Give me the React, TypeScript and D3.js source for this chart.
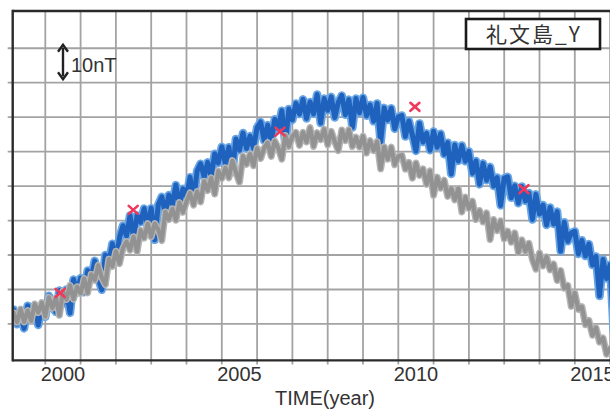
import React from 'react';
import * as d3 from 'd3';

// Sampling of the two daily-like series: one value every 0.1 year starting 1999.1
const START_YEAR = 1999.1;
const STEP = 0.1;

// Observed (blue) series, nT (relative)
const blueValues = [
  14.2, 9.9, 13.0, 8.7, 15.3, 11.3, 15.2, 9.7, 15.6, 12.1,
  18.2, 14.9, 13.5, 19.7, 15.8, 20.0, 13.2, 22.9, 19.1, 23.3,
  19.2, 25.5, 22.9, 28.3, 23.2, 19.9, 30.0, 27.7, 33.3, 28.0,
  35.0, 38.5, 35.5, 41.5, 35.0, 41.5, 39.5, 43.5, 38.3, 43.6,
  34.4, 44.6, 46.9, 42.1, 47.4, 44.6, 50.3, 44.5, 49.2, 46.9,
  52.6, 45.7, 54.4, 56.5, 52.7, 56.9, 52.7, 59.4, 56.7, 61.4,
  56.6, 61.3, 54.0, 63.7, 60.4, 65.4, 60.9, 64.5, 61.0, 67.0,
  68.6, 63.2, 67.7, 62.8, 69.4, 66.7, 71.9, 62.2, 72.4, 69.2,
  74.0, 70.9, 75.2, 69.6, 74.4, 71.0, 76.6, 68.3, 75.4, 72.0,
  75.9, 69.9, 74.3, 76.3, 70.7, 75.1, 67.0, 75.4, 71.3, 75.7,
  70.4, 73.6, 68.8, 74.0, 62.7, 72.7, 69.2, 72.6, 66.6, 70.1,
  70.5, 64.4, 68.9, 64.8, 60.2, 68.2, 62.8, 65.3, 60.4, 65.9,
  61.3, 65.2, 59.2, 62.6, 53.5, 61.9, 57.3, 61.8, 57.2, 60.1,
  53.7, 57.3, 50.5, 56.6, 51.7, 55.6, 50.0, 52.5, 44.4, 52.3,
  52.7, 46.6, 50.1, 45.0, 49.9, 45.7, 48.0, 40.3, 47.6, 41.9,
  44.5, 38.7, 43.8, 39.0, 42.6, 31.1, 39.5, 34.0, 36.4, 36.9,
  30.3, 34.3, 29.7, 33.2, 27.1, 29.6, 18.1, 28.7, 23.2, 27.2,
  8.0,
];

// Model (gray) series, nT (relative)
const grayValues = [
  13.2, 10.5, 14.3, 10.6, 13.9, 10.9, 15.8, 13.3, 16.2, 12.2,
  17.7, 14.6, 17.6, 12.5, 19.5, 17.1, 21.2, 17.2, 20.8, 18.9,
  23.2, 19.0, 24.4, 22.7, 27.0, 23.4, 21.4, 28.8, 26.7, 31.1,
  27.5, 32.0, 33.9, 31.4, 35.3, 31.0, 37.2, 34.9, 39.1, 35.3,
  39.1, 37.4, 34.2, 42.5, 40.3, 43.4, 40.1, 45.2, 42.4, 45.5,
  48.0, 44.5, 48.4, 45.4, 51.4, 48.7, 52.4, 47.7, 54.4, 52.2,
  55.3, 52.4, 57.4, 54.0, 51.1, 58.7, 56.3, 59.3, 55.9, 61.0,
  58.0, 61.0, 62.6, 58.6, 63.1, 61.0, 57.8, 64.7, 61.5, 64.4,
  65.6, 61.8, 65.6, 62.8, 67.0, 61.5, 65.5, 63.5, 66.5, 62.0,
  65.9, 62.9, 60.3, 66.3, 63.2, 66.4, 61.5, 64.2, 61.3, 64.5,
  59.6, 63.2, 60.3, 62.9, 55.0, 61.4, 57.8, 61.3, 56.2, 58.6,
  59.0, 54.9, 56.9, 52.3, 56.7, 53.1, 55.0, 50.5, 54.4, 47.3,
  52.6, 49.4, 51.7, 47.0, 49.3, 46.0, 49.3, 42.5, 46.8, 43.5,
  45.6, 40.3, 42.9, 39.6, 42.2, 34.5, 40.3, 37.1, 39.9, 34.7,
  36.9, 33.7, 36.4, 30.7, 34.4, 31.1, 33.4, 28.6, 25.9, 30.6,
  26.8, 29.5, 25.7, 27.4, 22.6, 25.5, 20.4, 21.2, 15.1, 19.0,
  14.2, 15.0, 9.8, 11.0, 6.7, 8.9, 4.7, 5.9, 1.2, 2.9,
  1.3,
];

// Absolute observations (red crosses)
const obsYears = [2000.42, 2002.49, 2006.65, 2010.47, 2013.56];
const obsValues = [19.0, 43.1, 65.8, 73.0, 49.1];

const xTickYears = [2000, 2005, 2010, 2015];
const gridYears = [2000, 2001, 2002, 2003, 2004, 2005, 2006, 2007, 2008, 2009, 2010, 2011, 2012, 2013, 2014, 2015, 2016];
const gridValues = [10, 20, 30, 40, 50, 60, 70, 80, 90];

const titleText = '礼文島_Y';
const xAxisTitle = 'TIME(year)';
const scaleText = '10nT';

export default function App() {
  const W = 610;
  const H = 412;
  const x = d3.scaleLinear().domain([2000, 2015]).range([45.3, 574.8]);
  const y = d3.scaleLinear().domain([0, 100]).range([358.4, 13.8]);
  const left = 12.7;
  const top = 11;
  const bottom = 360.4;
  const right = 640;

  const line = d3
    .line<number>()
    .x((_, i) => x(START_YEAR + i * STEP))
    .y((d) => y(d));

  const bluePath = line(blueValues) || '';
  const grayPath = line(grayValues) || '';

  const font = "'Liberation Sans', Arial, sans-serif";
  const arrowX = 63;
  const arrowTop = y(91);
  const arrowBot = y(81);

  return (
    <svg width={W} height={H} style={{ position: 'absolute', left: 0, top: 0, display: 'block', background: '#fff' }}>
      <defs>
        <clipPath id="plotClip">
          <rect x={left} y={top} width={right - left} height={bottom - top} />
        </clipPath>
      </defs>
      <rect x={0} y={0} width={W} height={H} fill="#fff" />
      {/* grid */}
      <g stroke="#a3a3a3" strokeWidth={1.8}>
        {gridYears.map((yr) => (
          <line key={'gx' + yr} x1={x(yr)} x2={x(yr)} y1={top} y2={bottom + 4} />
        ))}
        {gridValues.map((v) => (
          <line key={'gy' + v} x1={left - 5} x2={right} y1={y(v)} y2={y(v)} />
        ))}
      </g>
      {/* series */}
      <g clipPath="url(#plotClip)" fill="none" strokeLinejoin="round" strokeLinecap="round">
        <path d={bluePath} stroke="#6aa6e4" strokeWidth={8.5} />
        <path d={bluePath} stroke="#1f62bd" strokeWidth={5} />
        <path d={grayPath} stroke="#b5b5b5" strokeWidth={7} />
        <path d={grayPath} stroke="#929292" strokeWidth={4.2} />
      </g>
      {/* observations */}
      <g stroke="#f2385a" strokeWidth={2.6} strokeLinecap="round">
        {obsYears.map((yr, i) => {
          const cx = x(yr);
          const cy = y(obsValues[i]);
          return (
            <g key={'o' + i}>
              <line x1={cx - 4.5} y1={cy - 4} x2={cx + 4.5} y2={cy + 4} />
              <line x1={cx - 4.5} y1={cy + 4} x2={cx + 4.5} y2={cy - 4} />
            </g>
          );
        })}
      </g>
      {/* frame */}
      <g stroke="#2a2a2a" strokeWidth={2.4} fill="none">
        <line x1={left} x2={right} y1={top} y2={top} />
        <line x1={left} x2={right} y1={bottom} y2={bottom} />
        <line x1={left} x2={left} y1={top - 1.2} y2={bottom + 1.2} />
      </g>
      {/* x tick labels */}
      {xTickYears.map((yr) => (
        <text key={'t' + yr} x={x(yr + 0.5)} y={381} textAnchor="middle" fontFamily={font} fontSize={20} fill="#333">
          {yr}
        </text>
      ))}
      <text x={325} y={405} textAnchor="middle" fontFamily={font} fontSize={20} fill="#333">
        {xAxisTitle}
      </text>
      {/* scale arrow */}
      <g stroke="#222" strokeWidth={2.4} fill="#222">
        <line x1={arrowX} x2={arrowX} y1={arrowTop + 3} y2={arrowBot - 3} />
        <path d={`M${arrowX - 5},${arrowTop + 7} L${arrowX},${arrowTop} L${arrowX + 5},${arrowTop + 7}`} fill="none" />
        <path d={`M${arrowX - 5},${arrowBot - 7} L${arrowX},${arrowBot} L${arrowX + 5},${arrowBot - 7}`} fill="none" />
      </g>
      <text x={71} y={72} fontFamily={font} fontSize={20} fill="#333">
        {scaleText}
      </text>
      {/* station label */}
      <rect x={466} y={19} width={134} height={30} fill="#fff" stroke="#1a1a1a" strokeWidth={2.6} />
      <text x={534} y={42} textAnchor="middle" fontFamily="'Noto Sans CJK JP', sans-serif" fontSize={21} fill="#333" letterSpacing={2}>
        {titleText}
      </text>
    </svg>
  );
}
